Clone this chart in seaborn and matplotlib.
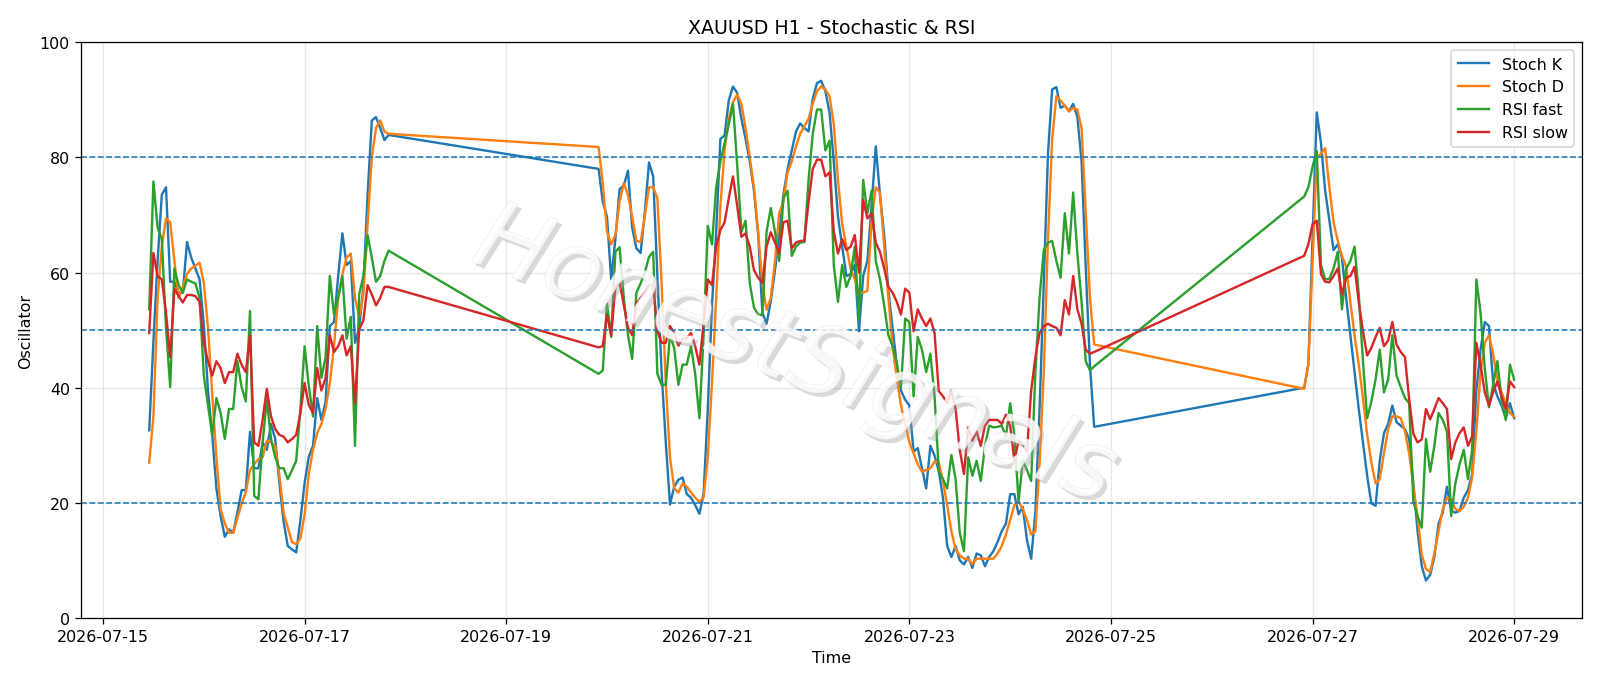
import numpy as np
import pandas as pd
import matplotlib
matplotlib.use("Agg")
import matplotlib.pyplot as plt
import matplotlib.dates as mdates
import matplotlib.patheffects as pe
import seaborn as sns

# ---- data ----
session_starts = ["2026-07-15 11:00", "2026-07-19 22:00", "2026-07-26 22:00"]
session_lengths = [58, 119, 51]

stoch_k = [
    # session 1
    32.6, 48, 62, 73.5, 74.8, 58.4, 58.4, 56.5, 56.5, 65.3,
    62.6, 60.7, 58.8, 51, 39.5, 31.8, 22.5, 17.7, 14.1, 15.4,
    14.8, 18.3, 22.2, 22.2, 32.3, 26, 26, 30.5, 29.2, 33.7,
    31.1, 23.4, 16.7, 12.5, 11.9, 11.4, 17, 23.4, 28, 29.9,
    38.2, 34.4, 37.6, 50.7, 51.4, 59.4, 66.8, 61.3, 62, 47.8,
    50.4, 57.5, 73.5, 86.4, 87, 85.1, 83, 83.9,
    # session 2
    78, 72.3, 69.7, 58.8, 65.8, 74.5, 75.1, 77.7, 67.8, 64.2,
    63.4, 70.3, 79.1, 76.7, 59.4, 42.7, 30.5, 19.7, 22.8, 24,
    24.4, 21.5, 20.9, 19.6, 18.1, 21.5, 36.3, 54.3, 67.1, 83.2,
    83.8, 89.9, 92.3, 91.2, 86.7, 83.2, 79.3, 74.2, 66.5, 53,
    51.1, 55, 60.4, 66.5, 73.5, 78, 81.2, 84.5, 85.9, 85.1,
    84.5, 90.2, 92.9, 93.3, 91.5, 87.7, 79.3, 69.7, 64.5, 59.4,
    59.7, 61.3, 49.8, 59.4, 62, 71.6, 81.9, 73.5, 66.5, 56.8,
    50.4, 44, 39.5, 37.9, 36.9, 28.9, 29.5, 26, 22.5, 29.9,
    28.2, 25.5, 20.9, 12.5, 10.6, 12.5, 10, 9.3, 10.6, 8.7,
    11.2, 10.9, 9, 10.6, 11.6, 13.2, 15.1, 16.4, 21.5, 21.5,
    18, 19.3, 13.5, 10.3, 18.3, 36.3, 58.1, 80.6, 91.8, 92.2,
    88.6, 89, 88, 89.3, 87, 79.3, 60.7, 44, 33.2,
    # session 3
    40, 44, 66, 87.8, 82.5, 74.2, 69, 63.9, 64.9, 62.6,
    55.6, 49.1, 42.7, 36.3, 30.5, 24.7, 19.9, 19.5, 27.3, 32.1,
    33.7, 36.9, 34, 33.4, 32.8, 31.1, 23.4, 15.1, 9, 6.5,
    7.5, 10.6, 16.4, 18.3, 22.8, 18.6, 18.3, 18.6, 20.9, 22.2,
    25, 39.5, 46.6, 51.4, 50.7, 40.8, 38.5, 36.9, 34.7, 37.3,
    34.7,
]

stoch_d = [
    27, 35, 55.5, 64.5, 69.4, 68.7, 62, 55.6, 57.5, 59.7,
    60.7, 61.2, 61.7, 58.2, 50.4, 38.9, 27.9, 18.9, 16.4, 14.8,
    14.8, 17.3, 19.9, 21.8, 25.7, 26.7, 27.6, 27.9, 30.8, 30.5,
    29.9, 24.7, 18.3, 15.7, 13.2, 12.8, 13.8, 18, 25, 29.2,
    32.1, 33.7, 36.3, 40.8, 47.2, 55.6, 59.7, 62.6, 63.3, 55.6,
    52.3, 56.2, 68.4, 80, 85.1, 86.4, 84.5, 84.1,
    81.8, 75.5, 67.1, 64.9, 66.5, 72.3, 75.5, 73.5, 69.7, 65.5,
    65.3, 69.7, 74.8, 74.8, 72.9, 58.1, 40.8, 27.9, 22.5, 21.8,
    23.4, 22.8, 21.8, 20.9, 20.2, 20.9, 27.9, 40.8, 55.6, 71.6,
    81.2, 86.7, 89.6, 90.9, 89.3, 85.1, 80, 74.8, 67.1, 58,
    53.5, 55.6, 62, 70.3, 72.3, 77.4, 79.3, 81.9, 84.1, 85.4,
    86.7, 89.3, 91.5, 92.3, 91.8, 90.6, 85.7, 76.1, 68.4, 64.5,
    60.7, 58.8, 56.5, 56.5, 56.8, 69, 74.8, 73.9, 64.5, 55.6,
    47.2, 41.7, 36.9, 33.7, 30.5, 28.6, 26.7, 25.4, 25.7, 26,
    27.2, 27, 23.8, 19.6, 15.1, 11.9, 10.9, 10.3, 10.3, 9.3,
    10.3, 10.3, 10.3, 10.3, 10.3, 11.2, 12.5, 14.5, 17, 19.6,
    20.2, 18.9, 17, 14.5, 15.1, 26.7, 42.7, 65.8, 83.2, 90.6,
    89.9, 89, 88, 88.6, 88.3, 85.1, 70.3, 55.6, 47.5,
    39.8, 44, 62, 80, 80.6, 81.6, 74.8, 68.7, 65.5, 62.9,
    61, 54.9, 49.1, 44, 38.2, 31.8, 27, 23.4, 24.1, 28.6,
    32.8, 35, 35, 34.7, 32.4, 28.6, 22.8, 17.7, 11, 8.5,
    8, 11.2, 15.1, 18.9, 20.9, 20.6, 18.9, 18.6, 19.3, 20.9,
    24.4, 32.4, 42.7, 47.8, 49.1, 45.9, 41.4, 39.2, 37.3, 35.6,
    35,
]

rsi_fast = [
    53.6, 75.8, 67.8, 65.8, 50.4, 40.1, 60.7, 57.8, 56.5, 58.8,
    58.4, 58.1, 55.6, 42.1, 36.9, 31.8, 38.2, 35.6, 31.1, 36.3,
    36.3, 44.6, 40.1, 37.6, 53.3, 21.2, 20.6, 30.5, 37.9, 31.1,
    27.9, 26, 26, 24.1, 25.7, 27.3, 36.3, 47.2, 40.3, 35,
    50.7, 41.7, 45.3, 59.4, 52.7, 55.6, 59.4, 48.5, 52.3, 29.9,
    56.2, 59.4, 66.5, 62.6, 58.4, 59.4, 62, 63.8,
    42.4, 43, 54.6, 48.8, 63.6, 64.4, 55.6, 49.1, 45, 56.5,
    58.1, 60, 62.7, 63.6, 42.4, 40.5, 40.5, 49.1, 46.9, 40.5,
    44, 44, 47.2, 42.4, 34.7, 49.1, 68.1, 64.9, 74.8, 79.3,
    82.5, 85.7, 89.3, 78.7, 67.1, 69, 58.1, 53.9, 52.7, 52.6,
    67.1, 71.2, 67.1, 62, 72.9, 74.2, 62.9, 64.5, 65.2, 65.3,
    76.1, 84.1, 88.3, 88.3, 81.2, 82.9, 61.3, 54.9, 61.3, 57.5,
    59.4, 64.5, 51.7, 76.1, 70.3, 74.2, 62, 58.8, 54.3, 49.1,
    47.2, 44.3, 40.1, 52, 51.4, 38.5, 48.8, 46.6, 42.7, 45.9,
    38.5, 25.5, 24.1, 22.5, 28.3, 24.1, 14.8, 11.6, 27.9, 24.7,
    27.3, 23.8, 29.9, 33.4, 33.1, 33.2, 33.4, 31.5, 37.3, 31.8,
    20.2, 27.3, 25.7, 23.8, 42.7, 55.6, 63.9, 65.2, 65.5, 62,
    59.1, 70.3, 63.3, 73.9, 63.3, 54.9, 44.6, 43, 43.7,
    73.2, 74.8, 78.4, 81.1, 61.3, 58.8, 58.9, 60.7, 63.6, 53.6,
    60.7, 62, 64.5, 56.2, 44.6, 34.7, 37.6, 41.4, 46.6, 39.2,
    41.4, 49.1, 42.1, 40.1, 38.2, 37.3, 20.2, 17.7, 15.7, 31.1,
    25.4, 29.9, 35.6, 34.4, 32.4, 17.7, 23.4, 26.7, 29.2, 24.1,
    29.2, 58.8, 53, 43.4, 36.6, 40.5, 44.6, 37.9, 34.4, 44,
    41.4,
]

rsi_slow = [
    49.5, 63.4, 59.4, 58.8, 53, 45.3, 57.2, 55.9, 54.8, 56.1,
    56.1, 55.9, 54.9, 47.8, 44.6, 42.1, 44.6, 43.4, 40.8, 42.7,
    42.7, 45.9, 44, 42.7, 49.1, 30.5, 29.9, 34.4, 39.8, 35,
    32.8, 31.8, 31.5, 30.5, 31.1, 31.8, 35.6, 40.8, 37, 35.6,
    43.4, 39.5, 41.7, 49.1, 46.2, 47.2, 49.1, 45.6, 47.2, 37.3,
    50.1, 51.7, 57.8, 56.2, 54.3, 55.6, 57.5, 57.5,
    47, 47.2, 52.7, 49.1, 57.5, 58.3, 54.3, 50.4, 49.1, 54.6,
    55.6, 56.5, 57.8, 57.8, 49.8, 47.8, 47.8, 50.7, 49.5, 47.3,
    48.5, 48.6, 49.5, 47.2, 44, 51.1, 58.8, 57.8, 64.5, 67.4,
    68.7, 72.9, 76.7, 71.6, 66.2, 66.8, 64.5, 60.4, 59.1, 58.2,
    64.5, 67, 65.2, 63.3, 68.7, 69, 64.2, 65.2, 65.5, 65.5,
    72.3, 78, 79.6, 79.6, 76.7, 77.4, 67.1, 63.3, 65.8, 63.9,
    64.5, 66.5, 60, 72.6, 69.4, 70.3, 65.2, 63.6, 60.7, 57.5,
    56.5, 54.9, 52.7, 57.2, 56.5, 49.8, 53.6, 52, 50.7, 52,
    49.5, 39.4, 38.5, 37.3, 39.5, 36.3, 29.2, 25, 33.1, 30.8,
    32.4, 29.9, 33.4, 34.4, 34.4, 34.4, 33.7, 35.3, 33.4, 27.3,
    30.8, 30.2, 28.9, 39.5, 45.3, 49.5, 50.7, 51.1, 50.7, 50.4,
    49.1, 55.2, 52.7, 59.4, 53.6, 51.1, 46.6, 45.9, 46.2,
    62.9, 64.9, 68.4, 69, 59.7, 58.4, 58.3, 59.4, 60.7, 56.2,
    59.1, 59.4, 61, 54.9, 49.8, 45.6, 46.9, 48.8, 50.4, 47.2,
    48.2, 51.4, 47.5, 46.2, 45.3, 38, 32, 30.5, 31, 36.3,
    34.5, 36.3, 38.2, 37.3, 36.3, 27.6, 30.5, 32.1, 33.1, 29.9,
    31.5, 47.8, 44, 39.2, 36.9, 39.2, 41.1, 38.5, 36.3, 41.1,
    40.1,
]

series_names = ["Stoch K", "Stoch D", "RSI fast", "RSI slow"]
series_colors = ["#1f77b4", "#ff7f0e", "#2ca02c", "#d62728"]
levels = [20, 50, 80]
title = "XAUUSD H1 - Stochastic & RSI"
watermark = "HonestSignals"

# ---- build time index ----
times = pd.DatetimeIndex(np.concatenate([
    pd.date_range(s, periods=n, freq="h").values
    for s, n in zip(session_starts, session_lengths)
]))

df = pd.DataFrame({"Time": times})
for name, vals in zip(series_names, [stoch_k, stoch_d, rsi_fast, rsi_slow]):
    df[name] = vals

# ---- plot ----
fig = plt.figure(figsize=(14, 6.0025), dpi=114.2857)
ax = fig.add_axes([0.0506, 0.0977, 0.9384, 0.8393])

for name, col in zip(series_names, series_colors):
    sns.lineplot(data=df, x="Time", y=name, ax=ax, color=col, label=name,
                 linewidth=1.5, estimator=None, sort=False)

for lv in levels:
    ax.axhline(lv, color="#1f77b4", linestyle="--", linewidth=1.0)

ax.set_ylim(0, 100)
ax.set_title(title, fontsize=12)
ax.set_xlabel("Time")
ax.set_ylabel("Oscillator")
ax.grid(True, color="#b0b0b0", alpha=0.3, linewidth=0.8)
ax.xaxis.set_major_locator(mdates.DayLocator(interval=2))
ax.xaxis.set_major_formatter(mdates.DateFormatter("%Y-%m-%d"))
ax.legend(loc="upper right")

t = fig.text(0.497, 0.478, watermark, fontsize=60, style="italic",
             rotation=-21, ha="center", va="center", color="white",
             alpha=0.45, zorder=10)
t.set_path_effects([
    pe.withSimplePatchShadow(offset=(2.5, -2.5), shadow_rgbFace="#a0a0a0", alpha=0.4),
    pe.Stroke(linewidth=0.7, foreground="#dddddd"),
    pe.Normal(),
])

fig.savefig("out.png", dpi=114.2857)
